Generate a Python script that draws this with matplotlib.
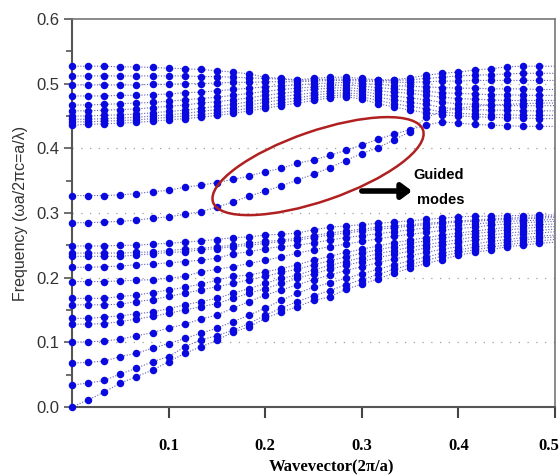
import numpy as np
import matplotlib.pyplot as plt
from matplotlib.patches import Ellipse
from matplotlib.transforms import ScaledTranslation

# wavevector samples (2pi/a), 31 points from 0 to 0.5
k_points = np.linspace(0, 0.5, 31)

# lower band cluster (bottom to top at k=0)
band_l01 = [0.000, 0.011, 0.023, 0.037, 0.047, 0.057, 0.070, 0.083, 0.093, 0.103, 0.116, 0.124, 0.137, 0.147, 0.155,
            0.165, 0.170, 0.182, 0.190, 0.198, 0.207, 0.215, 0.222, 0.228, 0.235, 0.239, 0.243, 0.248, 0.250, 0.253, 0.255]
band_l02 = [0.034, 0.037, 0.041, 0.051, 0.060, 0.070, 0.078, 0.093, 0.104, 0.110, 0.119, 0.129, 0.142, 0.153, 0.163,
            0.172, 0.180, 0.189, 0.197, 0.205, 0.213, 0.220, 0.227, 0.233, 0.239, 0.243, 0.247, 0.251, 0.254, 0.257, 0.259]
band_l03 = [0.068, 0.069, 0.071, 0.078, 0.083, 0.091, 0.098, 0.106, 0.114, 0.122, 0.132, 0.142, 0.153, 0.165, 0.176,
            0.185, 0.192, 0.199, 0.206, 0.213, 0.220, 0.226, 0.232, 0.238, 0.243, 0.247, 0.251, 0.255, 0.258, 0.261, 0.263]
band_l04 = [0.100, 0.101, 0.102, 0.105, 0.110, 0.115, 0.122, 0.128, 0.136, 0.142, 0.153, 0.163, 0.173, 0.181, 0.189,
            0.197, 0.204, 0.211, 0.217, 0.223, 0.229, 0.234, 0.239, 0.244, 0.248, 0.252, 0.256, 0.259, 0.262, 0.264, 0.266]
band_l05 = [0.128, 0.128, 0.129, 0.132, 0.136, 0.140, 0.145, 0.150, 0.155, 0.160, 0.168, 0.176, 0.183, 0.191, 0.199,
            0.206, 0.213, 0.219, 0.225, 0.231, 0.236, 0.241, 0.246, 0.250, 0.254, 0.258, 0.261, 0.264, 0.267, 0.269, 0.271]
band_l06 = [0.137, 0.137, 0.139, 0.141, 0.144, 0.147, 0.152, 0.158, 0.163, 0.168, 0.176, 0.183, 0.191, 0.199, 0.204,
            0.212, 0.219, 0.225, 0.231, 0.237, 0.242, 0.247, 0.251, 0.255, 0.259, 0.263, 0.266, 0.269, 0.271, 0.273, 0.275]
band_l07 = [0.158, 0.158, 0.158, 0.159, 0.163, 0.166, 0.171, 0.176, 0.181, 0.186, 0.191, 0.197, 0.202, 0.208, 0.213,
            0.220, 0.226, 0.232, 0.238, 0.243, 0.248, 0.253, 0.257, 0.261, 0.265, 0.268, 0.271, 0.274, 0.276, 0.278, 0.279]
band_l08 = [0.168, 0.168, 0.168, 0.171, 0.173, 0.177, 0.181, 0.185, 0.190, 0.196, 0.202, 0.204, 0.209, 0.214, 0.220,
            0.227, 0.233, 0.239, 0.244, 0.249, 0.254, 0.258, 0.262, 0.266, 0.269, 0.272, 0.275, 0.278, 0.280, 0.282, 0.283]
band_l09 = [0.194, 0.194, 0.194, 0.195, 0.196, 0.197, 0.199, 0.202, 0.209, 0.213, 0.217, 0.222, 0.227, 0.232, 0.238,
            0.243, 0.248, 0.252, 0.256, 0.260, 0.264, 0.267, 0.270, 0.273, 0.276, 0.278, 0.281, 0.283, 0.285, 0.286, 0.287]
band_l10 = [0.216, 0.216, 0.217, 0.218, 0.220, 0.221, 0.223, 0.225, 0.227, 0.230, 0.237, 0.240, 0.245, 0.248, 0.250,
            0.254, 0.258, 0.262, 0.265, 0.268, 0.271, 0.274, 0.277, 0.279, 0.281, 0.283, 0.285, 0.287, 0.288, 0.289, 0.290]
band_l11 = [0.233, 0.233, 0.233, 0.233, 0.235, 0.237, 0.239, 0.240, 0.243, 0.245, 0.248, 0.250, 0.253, 0.256, 0.258,
            0.262, 0.266, 0.269, 0.272, 0.275, 0.277, 0.280, 0.282, 0.284, 0.286, 0.287, 0.289, 0.290, 0.291, 0.292, 0.293]
band_l12 = [0.238, 0.238, 0.238, 0.238, 0.239, 0.240, 0.242, 0.244, 0.245, 0.248, 0.250, 0.253, 0.256, 0.258, 0.261,
            0.265, 0.269, 0.272, 0.275, 0.278, 0.280, 0.282, 0.284, 0.286, 0.288, 0.289, 0.291, 0.292, 0.293, 0.294, 0.295]
band_l13 = [0.249, 0.249, 0.249, 0.250, 0.250, 0.252, 0.253, 0.255, 0.257, 0.259, 0.262, 0.263, 0.266, 0.267, 0.269,
            0.274, 0.278, 0.280, 0.282, 0.284, 0.286, 0.288, 0.290, 0.292, 0.294, 0.295, 0.295, 0.296, 0.296, 0.297, 0.297]

# guided (defect) modes inside the gap
guided_upper = [0.327, 0.327, 0.327, 0.328, 0.330, 0.333, 0.335, 0.340, 0.343, 0.347, 0.352, 0.357, 0.364, 0.369, 0.377,
                0.382, 0.389, 0.397, 0.405, 0.414, 0.422, 0.429, 0.436, 0.441, 0.439, 0.437, 0.436, 0.435, 0.434, 0.434, 0.434]
guided_lower = [0.285, 0.285, 0.286, 0.287, 0.289, 0.292, 0.294, 0.298, 0.302, 0.309, 0.317, 0.326, 0.334, 0.342, 0.351,
                0.360, 0.370, 0.381, 0.392, 0.401, 0.413, 0.426, 0.448, 0.457, 0.462, 0.465, 0.467, 0.468, 0.469, 0.470, 0.470]

# upper band cluster (bottom to top at k=0)
band_u01 = [0.436, 0.437, 0.438, 0.439, 0.440, 0.442, 0.444, 0.446, 0.448, 0.451, 0.454, 0.458, 0.462, 0.466, 0.470,
            0.474, 0.478, 0.480, 0.476, 0.469, 0.464, 0.459, 0.455, 0.452, 0.450, 0.449, 0.448, 0.447, 0.447, 0.446, 0.446]
band_u02 = [0.441, 0.441, 0.442, 0.443, 0.444, 0.446, 0.448, 0.450, 0.452, 0.455, 0.458, 0.462, 0.466, 0.470, 0.474,
            0.478, 0.481, 0.483, 0.480, 0.474, 0.469, 0.465, 0.461, 0.456, 0.454, 0.453, 0.452, 0.452, 0.451, 0.451, 0.451]
band_u03 = [0.445, 0.445, 0.446, 0.447, 0.448, 0.450, 0.452, 0.454, 0.457, 0.460, 0.463, 0.467, 0.471, 0.475, 0.478,
            0.482, 0.485, 0.486, 0.484, 0.479, 0.475, 0.471, 0.468, 0.463, 0.461, 0.460, 0.459, 0.459, 0.458, 0.458, 0.458]
band_u04 = [0.450, 0.450, 0.451, 0.452, 0.453, 0.455, 0.457, 0.459, 0.462, 0.465, 0.468, 0.472, 0.476, 0.480, 0.483,
            0.486, 0.489, 0.490, 0.488, 0.484, 0.481, 0.478, 0.475, 0.471, 0.469, 0.468, 0.467, 0.466, 0.466, 0.466, 0.466]
band_u05 = [0.458, 0.458, 0.459, 0.460, 0.461, 0.463, 0.465, 0.467, 0.470, 0.472, 0.475, 0.478, 0.482, 0.485, 0.488,
            0.491, 0.493, 0.494, 0.492, 0.489, 0.487, 0.485, 0.482, 0.479, 0.477, 0.476, 0.475, 0.474, 0.474, 0.474, 0.474]
band_u06 = [0.467, 0.467, 0.468, 0.469, 0.470, 0.471, 0.473, 0.475, 0.477, 0.479, 0.482, 0.485, 0.488, 0.491, 0.493,
            0.495, 0.497, 0.498, 0.496, 0.494, 0.492, 0.490, 0.488, 0.486, 0.485, 0.484, 0.483, 0.483, 0.482, 0.482, 0.482]
band_u07 = [0.481, 0.481, 0.481, 0.482, 0.482, 0.483, 0.484, 0.486, 0.487, 0.489, 0.491, 0.493, 0.495, 0.497, 0.498,
            0.500, 0.501, 0.502, 0.500, 0.499, 0.497, 0.496, 0.495, 0.494, 0.493, 0.493, 0.492, 0.492, 0.492, 0.491, 0.491]
band_u08 = [0.498, 0.498, 0.498, 0.498, 0.498, 0.499, 0.499, 0.500, 0.500, 0.501, 0.502, 0.502, 0.503, 0.503, 0.503,
            0.504, 0.505, 0.505, 0.504, 0.503, 0.502, 0.502, 0.503, 0.504, 0.504, 0.505, 0.505, 0.505, 0.505, 0.505, 0.505]
band_u09 = [0.512, 0.512, 0.512, 0.512, 0.512, 0.512, 0.512, 0.512, 0.511, 0.511, 0.510, 0.509, 0.508, 0.507, 0.505,
            0.506, 0.507, 0.507, 0.506, 0.505, 0.505, 0.506, 0.508, 0.510, 0.512, 0.513, 0.514, 0.515, 0.516, 0.516, 0.516]
band_u10 = [0.527, 0.527, 0.527, 0.526, 0.526, 0.525, 0.524, 0.523, 0.522, 0.520, 0.518, 0.515, 0.510, 0.508, 0.506,
            0.508, 0.510, 0.510, 0.508, 0.506, 0.506, 0.509, 0.513, 0.516, 0.518, 0.521, 0.523, 0.526, 0.527, 0.527, 0.527]

x_ticks = [0.1, 0.2, 0.3, 0.4, 0.5]
y_ticks = [0.0, 0.1, 0.2, 0.3, 0.4, 0.5, 0.6]
grid_levels = [0.1, 0.2, 0.3, 0.4, 0.5]

all_bands = [band_l01, band_l02, band_l03, band_l04, band_l05, band_l06, band_l07,
             band_l08, band_l09, band_l10, band_l11, band_l12, band_l13,
             guided_lower, guided_upper,
             band_u01, band_u02, band_u03, band_u04, band_u05,
             band_u06, band_u07, band_u08, band_u09, band_u10]

fig = plt.figure(figsize=(5.6, 4.75), dpi=100)
ax = fig.add_axes([72 / 560, 68 / 475, 483 / 560, 388 / 475])

for lvl in grid_levels:
    ax.axhline(lvl, color="#a0a0a0", lw=0.9, ls=(0, (1, 6)), zorder=1)

for band in all_bands:
    ax.plot(k_points, band, color="#6060b0", lw=0.8, ls=(0, (1, 1.5)), zorder=2)
    # markers only up to the last sampled column before the zone edge
    ax.plot(k_points[:30], band[:30], ls="none", marker="o", ms=5.4,
            mec="none", mfc="#0a0ae0", zorder=3, clip_on=False)

ax.set_xlim(0, 0.5)
ax.set_ylim(0, 0.6)

ax.set_xticks(x_ticks)
ax.set_xticklabels([f"{v:.1f}" for v in x_ticks],
                   fontfamily="Liberation Serif", fontweight="bold", fontsize=12)
ax.set_yticks(y_ticks)
ax.set_yticklabels([f"{v:.1f}" for v in y_ticks],
                   fontfamily="Liberation Sans", fontsize=12, color="#333333")
ax.set_yticks(np.arange(0.05, 0.6, 0.1), minor=True)
ax.tick_params(axis="x", direction="out", length=8, width=1.5, pad=14, color="#444444")
ax.tick_params(axis="y", which="major", direction="out", length=6, width=1.2, pad=3, color="#555555")
ax.tick_params(axis="y", which="minor", direction="out", length=4, width=1.2, color="#555555")

# last x label sits right at the figure edge; nudge it left so it fits
last_lbl = ax.get_xticklabels()[-1]
last_lbl.set_transform(last_lbl.get_transform()
                       + ScaledTranslation(-6 / 100, 0, fig.dpi_scale_trans))

for side in ["left", "bottom"]:
    ax.spines[side].set_color("#555555")
    ax.spines[side].set_linewidth(1.5)
for side in ["top", "right"]:
    ax.spines[side].set_color("#777777")
    ax.spines[side].set_linewidth(1.2)

ax.set_ylabel("Frequency (\u03c9a/2\u03c0c=a/\u03bb)", fontfamily="Liberation Sans",
              fontsize=11.5, color="#333333", labelpad=6)
ax.set_xlabel("Wavevector(2\u03c0/a)", fontfamily="Liberation Serif",
              fontweight="bold", fontsize=12)
ax.xaxis.set_label_coords(0.538, -0.135)

# red ellipse around the guided modes (size in inches, centre in data coords)
ell = Ellipse((0, 0), width=2.22, height=0.70, angle=19, fill=False,
              edgecolor="#b02020", lw=1.8,
              transform=fig.dpi_scale_trans + ScaledTranslation(0.2547, 0.3725, ax.transData),
              zorder=4)
ax.add_patch(ell)

ax.annotate("", xy=(0.352, 0.334), xytext=(0.300, 0.334),
            arrowprops=dict(arrowstyle="-|>,head_length=0.6,head_width=0.45",
                            lw=4, color="black", shrinkA=0, shrinkB=0))
ax.text(0.406, 0.358, "Guided", ha="right", va="center", fontsize=10.5,
        fontweight="bold", fontfamily="Liberation Sans")
ax.text(0.406, 0.320, "modes", ha="right", va="center", fontsize=10.5,
        fontweight="bold", fontfamily="Liberation Sans")

fig.savefig("out.png", dpi=100)
